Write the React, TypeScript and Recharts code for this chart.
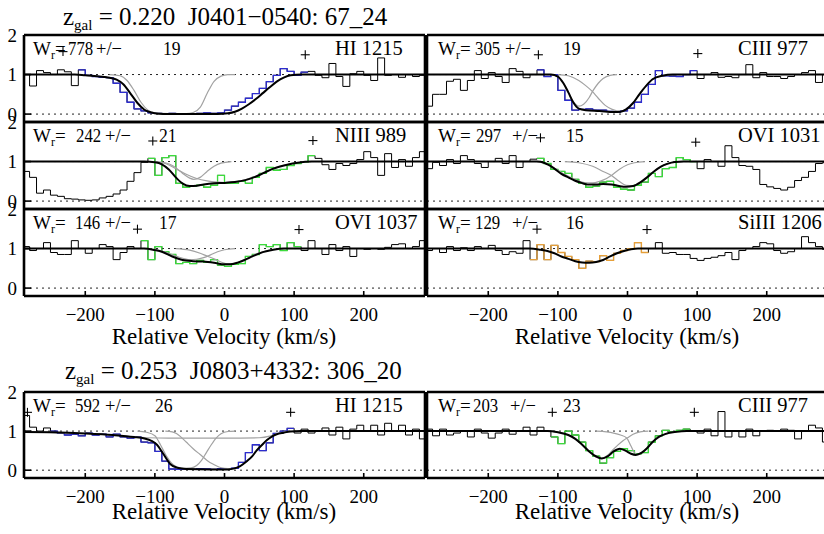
import React from 'react';
import { ComposedChart, Line, XAxis, YAxis, ReferenceLine, Scatter } from 'recharts';

type Pair = [number, number];

// ---------- shared grid / ticks ----------
const binEdges = [
  -290, -280, -270, -260, -250, -240, -230, -220, -210, -200, -190, -180, -170, -160, -150,
  -140, -130, -120, -110, -100, -90, -80, -70, -60, -50, -40, -30, -20, -10, 0,
  10, 20, 30, 40, 50, 60, 70, 80, 90, 100, 110, 120, 130, 140, 150,
  160, 170, 180, 190, 200, 210, 220, 230, 240, 250, 260, 270, 280, 290,
];
const velTicks = [-200, -100, 0, 100, 200];
const fluxTicks = [0, 1, 2];

// ---------- titles / labels ----------
const groupTitles = ['0.220  J0401\u22120540: 67_24', '0.253  J0803+4332: 306_20'];
const lineNames = ['HI 1215', 'CIII 977', 'NIII 989', 'OVI 1031', 'OVI 1037', 'SiIII 1206', 'HI 1215', 'CIII 977'];
const wValues = [778, 305, 242, 297, 146, 129, 592, 203];
const wErrors = [19, 19, 21, 15, 17, 16, 26, 23];

// ---------- panel 1: HI 1215 (J0401) ----------
const fluxP1 = [
  1.0, 0.71, 1.1, 1.05, 1.0, 1.12, 1.07, 0.72, 1.12, 0.98,
  0.95, 0.93, 0.92, 0.78, 0.55, 0.3, 0.13, 0.08, 0.03, 0.02,
  0.01, 0.02, 0.0, 0.01, 0.0, 0.02, 0.03, 0.02, 0.03, 0.1,
  0.2, 0.3, 0.4, 0.52, 0.65, 0.82, 0.98, 1.15, 1.08, 0.98,
  1.06, 1.08, 0.98, 0.92, 1.28, 0.95, 0.7, 1.02, 1.08, 0.98,
  0.85, 1.42, 0.98, 1.0, 0.93, 1.0, 0.95, 0.98,
];
const segP1: Pair = [-210, 120];
const fitP1: Pair[] = [[-290, 1], [-215, 1], [-200, 0.98], [-180, 0.95], [-165, 0.92], [-155, 0.87], [-145, 0.75], [-135, 0.52], [-125, 0.28], [-115, 0.11], [-105, 0.04], [-95, 0.01], [-80, 0], [-10, 0], [5, 0.02], [15, 0.06], [25, 0.14], [35, 0.25], [45, 0.38], [55, 0.53], [65, 0.68], [75, 0.82], [85, 0.92], [95, 0.98], [110, 1], [290, 1]];
const compP1a: Pair[] = [[-165, 1], [-150, 0.97], [-140, 0.85], [-130, 0.6], [-120, 0.3], [-110, 0.1], [-100, 0.03], [-80, 0.01], [-55, 0.01], [-45, 0.04], [-35, 0.17], [-25, 0.52], [-15, 0.83], [-5, 0.96], [5, 1], [15, 1]];
const plusP1: Pair[] = [[-232, 1.58], [116, 1.5]];

// ---------- panel 2: CIII 977 (J0401) ----------
const fluxP2 = [
  0.2, 0.5, 0.5, 0.83, 0.88, 0.6, 0.85, 1.1, 0.9, 1.05,
  0.95, 0.8, 1.15, 1.08, 0.92, 1.0, 1.12, 0.95, 1.0, 0.6,
  0.35, 0.1, 0.12, 0.13, 0.1, 0.1, 0.07, 0.05, 0.08, 0.15,
  0.3, 0.5, 0.75, 1.1, 0.97, 0.96, 0.95, 1.0, 1.1, 0.9,
  1.0, 1.05, 0.93, 0.95, 0.92, 1.0, 1.25, 0.92, 1.05, 0.95,
  0.95, 0.9, 0.95, 1.0, 1.05, 1.1, 0.8, 1.0,
];
const segP2: Pair = [-130, 100];
const fitP2: Pair[] = [[-290, 1], [-110, 1], [-100, 0.95], [-92, 0.78], [-85, 0.55], [-78, 0.3], [-70, 0.14], [-60, 0.1], [-40, 0.08], [-20, 0.05], [-10, 0.06], [-2, 0.12], [8, 0.28], [17, 0.5], [27, 0.72], [36, 0.88], [50, 0.97], [65, 1], [290, 1]];
const compP2a: Pair[] = [[-110, 1], [-100, 0.95], [-92, 0.78], [-85, 0.55], [-78, 0.32], [-70, 0.2], [-63, 0.25], [-55, 0.42], [-50, 0.58], [-42, 0.78], [-35, 0.9], [-25, 0.98], [-15, 1]];
const compP2b: Pair[] = [[-100, 1], [-85, 0.97], [-70, 0.85], [-60, 0.72], [-51, 0.58], [-42, 0.4], [-32, 0.22], [-22, 0.12], [-10, 0.07], [-2, 0.12], [8, 0.28], [17, 0.5], [27, 0.72], [36, 0.88], [50, 0.97], [65, 1]];
const plusP2: Pair[] = [[-128, 1.5], [101, 1.53]];

// ---------- panel 3: NIII 989 (J0401) ----------
const fluxP3 = [
  0.75, 0.6, 0.2, 0.28, 0.15, 0.12, 0.06, 0.05, 0.03, 0.02,
  0.03, 0.08, 0.12, 0.18, 0.28, 0.5, 0.72, 0.98, 1.08, 0.65,
  1.1, 1.15, 0.45, 0.35, 0.38, 0.4, 0.35, 0.4, 0.65, 0.45,
  0.45, 0.5, 0.45, 0.6, 0.7, 0.85, 0.78, 0.8, 0.9, 0.95,
  0.98, 1.15, 1.08, 0.92, 0.8, 0.95, 0.9, 0.95, 1.05, 1.25,
  1.1, 0.65, 1.2, 0.85, 1.05, 0.88, 1.1, 1.25,
];
const segP3: Pair = [-110, 130];
const fitP3: Pair[] = [[-290, 1], [-115, 1], [-100, 0.98], [-90, 0.93], [-80, 0.8], [-70, 0.6], [-60, 0.44], [-50, 0.38], [-40, 0.39], [-30, 0.42], [-15, 0.45], [0, 0.46], [15, 0.48], [30, 0.53], [45, 0.62], [55, 0.7], [70, 0.82], [90, 0.92], [105, 0.97], [125, 1], [290, 1]];
const compP3a: Pair[] = [[-100, 1], [-85, 0.97], [-73, 0.88], [-60, 0.7], [-50, 0.58], [-44, 0.55], [-35, 0.6], [-25, 0.75], [-15, 0.88], [-5, 0.96], [10, 1]];
const compP3b: Pair[] = [[-100, 1], [-85, 0.95], [-70, 0.82], [-55, 0.68], [-40, 0.57], [-25, 0.51], [-10, 0.48], [0, 0.47], [15, 0.49], [30, 0.54], [45, 0.63], [55, 0.7], [70, 0.82], [90, 0.92], [105, 0.97], [125, 1]];
const plusP3: Pair[] = [[-103, 1.52], [127, 1.53]];

// ---------- panel 4: OVI 1031 (J0401) ----------
const fluxP4 = [
  0.82, 0.98, 0.9, 1.05, 0.95, 1.15, 1.05, 0.95, 0.85, 1.0,
  1.08, 0.95, 1.15, 0.85, 1.0, 1.06, 1.08, 0.95, 0.8, 0.75,
  0.7, 0.55, 0.45, 0.35, 0.38, 0.48, 0.5, 0.35, 0.3, 0.28,
  0.4, 0.48, 0.7, 0.62, 0.82, 0.85, 1.1, 1.05, 1.0, 0.82,
  1.05, 1.0, 0.88, 1.4, 1.1, 0.9, 0.88, 0.8, 0.42, 0.36,
  0.32, 0.28, 0.35, 0.52, 0.6, 0.75, 0.95, 0.97,
];
const segP4: Pair = [-130, 100];
const fitP4: Pair[] = [[-290, 1], [-130, 1], [-120, 0.97], [-114, 0.92], [-105, 0.82], [-95, 0.69], [-85, 0.6], [-76, 0.52], [-66, 0.46], [-57, 0.42], [-45, 0.42], [-35, 0.43], [-23, 0.42], [-12, 0.38], [-2, 0.36], [8, 0.38], [19, 0.48], [28, 0.6], [38, 0.75], [48, 0.87], [57, 0.94], [68, 0.99], [80, 1], [290, 1]];
const compP4a: Pair[] = [[-130, 1], [-114, 0.93], [-95, 0.72], [-76, 0.55], [-62, 0.47], [-50, 0.46], [-40, 0.5], [-30, 0.57], [-23, 0.65], [-12, 0.8], [0, 0.92], [10, 0.97], [25, 1]];
const compP4b: Pair[] = [[-90, 1], [-70, 0.97], [-50, 0.88], [-35, 0.75], [-23, 0.65], [-12, 0.5], [-2, 0.4], [8, 0.39], [19, 0.48], [28, 0.6], [38, 0.75], [48, 0.87], [57, 0.94], [68, 0.99], [80, 1]];
const plusP4: Pair[] = [[-125, 1.6], [98, 1.49]];

// ---------- panel 5: OVI 1037 (J0401) ----------
const fluxP5 = [
  1.05, 0.95, 1.0, 1.15, 0.9, 0.85, 0.85, 1.2, 1.0, 0.88,
  1.0, 1.1, 1.05, 0.72, 0.9, 1.05, 1.0, 1.2, 0.72, 1.05,
  0.92, 0.85, 0.62, 0.65, 0.62, 0.7, 0.65, 0.72, 0.58, 0.55,
  0.6, 0.62, 0.8, 0.85, 1.1, 1.05, 1.1, 0.95, 1.15, 1.05,
  0.95, 1.2, 1.0, 0.85, 1.1, 0.95, 1.05, 0.8, 1.0, 0.98,
  1.0, 0.98, 1.03, 1.1, 1.12, 1.0, 1.05, 1.2,
];
const segP5: Pair = [-120, 110];
const fitP5: Pair[] = [[-290, 1], [-115, 1], [-100, 0.96], [-90, 0.92], [-75, 0.8], [-60, 0.71], [-45, 0.68], [-30, 0.67], [-15, 0.64], [0, 0.6], [8, 0.6], [20, 0.65], [30, 0.72], [40, 0.8], [55, 0.91], [70, 0.97], [85, 1], [290, 1]];
const compP5a: Pair[] = [[-115, 1], [-95, 0.96], [-80, 0.88], [-65, 0.78], [-50, 0.72], [-40, 0.73], [-30, 0.77], [-20, 0.84], [-10, 0.92], [0, 0.97], [15, 1]];
const compP5b: Pair[] = [[-70, 1], [-50, 0.96], [-35, 0.88], [-25, 0.81], [-15, 0.74], [-5, 0.66], [5, 0.61], [15, 0.63], [25, 0.69], [35, 0.77], [45, 0.86], [58, 0.93], [72, 0.98], [85, 1]];
const plusP5: Pair[] = [[-125, 1.49], [107, 1.48]];

// ---------- panel 6: SiIII 1206 (J0401) ----------
const fluxP6 = [
  0.95, 1.0, 0.9, 1.05, 0.95, 1.02, 0.95, 1.05, 1.0, 1.08,
  0.95, 0.85, 0.92, 0.88, 1.2, 0.72, 1.1, 0.72, 1.08, 0.9,
  0.8, 0.72, 0.5, 0.68, 0.67, 0.82, 0.7, 0.88, 0.95, 1.0,
  1.15, 0.9, 1.0, 1.15, 0.88, 0.9, 0.85, 0.85, 0.75, 0.7,
  0.75, 0.78, 0.82, 0.9, 0.72, 0.95, 1.0, 1.05, 1.15, 1.12,
  0.95, 0.88, 0.92, 1.0, 1.3, 1.15, 1.05, 0.98,
];
const segP6: Pair = [-140, 30];
const fitP6: Pair[] = [[-290, 1], [-140, 1], [-125, 0.97], [-115, 0.94], [-105, 0.88], [-95, 0.8], [-85, 0.74], [-75, 0.68], [-65, 0.65], [-55, 0.64], [-45, 0.66], [-35, 0.71], [-25, 0.8], [-15, 0.88], [-5, 0.94], [5, 0.98], [15, 1], [290, 1]];
const plusP6: Pair[] = [[-130, 1.49], [28, 1.48]];

// ---------- panel 7: HI 1215 (J0803) ----------
const fluxP7 = [
  1.4, 1.1, 1.0, 1.08, 1.0, 0.95, 0.9, 0.92, 0.88, 0.95,
  0.9, 0.92, 0.85, 0.92, 0.85, 0.82, 0.85, 0.72, 0.7, 0.48,
  0.23, 0.03, 0.02, 0.03, 0.02, 0.04, 0.03, 0.02, 0.04, 0.03,
  0.05, 0.2, 0.45, 0.65, 0.5, 0.7, 0.94, 1.0, 1.07, 0.95,
  1.05, 0.95, 1.0, 1.08, 0.9, 1.1, 0.8, 1.05, 1.15, 1.0,
  1.15, 0.9, 1.2, 1.0, 1.15, 0.9, 1.05, 0.8,
];
const segP7: Pair = [-250, 100];
const fitP7: Pair[] = [[-290, 0.98], [-250, 0.97], [-200, 0.94], [-160, 0.9], [-130, 0.85], [-115, 0.81], [-105, 0.75], [-97, 0.65], [-88, 0.42], [-78, 0.16], [-68, 0.06], [-55, 0.03], [-20, 0.02], [5, 0.02], [13, 0.04], [22, 0.1], [32, 0.23], [40, 0.36], [46, 0.5], [53, 0.63], [61, 0.77], [68, 0.86], [75, 0.92], [85, 0.96], [95, 0.99], [110, 1], [290, 1]];
const compP7a: Pair[] = [[-290, 0.98], [-240, 0.96], [-200, 0.94], [-160, 0.9], [-130, 0.85], [-110, 0.83], [-80, 0.82], [0, 0.82], [50, 0.83], [65, 0.87], [75, 0.93], [85, 0.97], [95, 0.99], [110, 1]];
const compP7b: Pair[] = [[-125, 1], [-112, 0.97], [-100, 0.88], [-92, 0.65], [-84, 0.38], [-76, 0.18], [-68, 0.08], [-58, 0.05], [-48, 0.06], [-40, 0.12], [-33, 0.25], [-26, 0.45], [-19, 0.65], [-12, 0.82], [-5, 0.93], [5, 0.99], [15, 1]];
const compP7c: Pair[] = [[-85, 1], [-75, 0.98], [-69, 0.94], [-62, 0.84], [-55, 0.72], [-45, 0.55], [-35, 0.4], [-25, 0.25], [-16, 0.15], [-8, 0.08], [0, 0.05], [10, 0.04], [15, 0.05], [22, 0.1], [32, 0.23], [40, 0.36], [46, 0.5], [53, 0.63], [61, 0.77], [68, 0.86], [75, 0.93], [85, 0.97], [95, 1]];
const plusP7: Pair[] = [[-283, 1.48], [95, 1.48]];

// ---------- panel 8: CIII 977 (J0803) ----------
const fluxP8 = [
  1.05, 0.88, 1.05, 0.9, 0.95, 1.0, 0.85, 1.05, 0.95, 0.82,
  0.95, 1.05, 0.92, 1.0, 1.1, 0.9, 1.1, 1.0, 0.85, 0.68,
  1.0, 0.9, 0.72, 0.5, 0.36, 0.18, 0.32, 0.48, 0.55, 0.5,
  0.42, 0.45, 0.72, 0.88, 1.02, 0.98, 1.02, 1.05, 1.0, 0.95,
  1.05, 0.88, 1.5, 0.85, 1.0, 0.85, 1.05, 0.88, 1.0, 1.02,
  1.0, 1.05, 1.02, 0.8, 1.0, 1.15, 1.08, 0.72,
];
const segP8: Pair = [-110, 90];
const fitP8: Pair[] = [[-290, 1], [-115, 1], [-100, 0.97], [-85, 0.9], [-75, 0.8], [-65, 0.65], [-55, 0.48], [-45, 0.35], [-37, 0.3], [-28, 0.36], [-20, 0.48], [-11, 0.55], [-3, 0.5], [5, 0.42], [12, 0.39], [20, 0.44], [28, 0.56], [36, 0.72], [45, 0.85], [55, 0.93], [70, 0.98], [85, 1], [290, 1]];
const compP8a: Pair[] = [[-115, 1], [-95, 0.96], [-80, 0.86], [-68, 0.7], [-57, 0.5], [-47, 0.36], [-38, 0.3], [-30, 0.36], [-22, 0.5], [-14, 0.64], [-6, 0.76], [0, 0.83], [8, 0.92], [18, 0.98], [30, 1]];
const compP8b: Pair[] = [[-45, 1], [-30, 0.98], [-20, 0.95], [-10, 0.9], [-1, 0.82], [5, 0.62], [10, 0.45], [14, 0.4], [20, 0.44], [28, 0.56], [36, 0.72], [45, 0.85], [55, 0.93], [70, 0.98], [85, 1]];
const plusP8: Pair[] = [[-108, 1.48], [96, 1.48]];

// ---------- styling ----------
const FONT = "'Liberation Serif', 'Times New Roman', serif";
const BLUE = '#2c2ccf';
const GREEN = '#3cdc3c';
const ORANGE = '#e6a03a';
const GRAY = '#a2a2a2';
const FRAME = { stroke: '#000', strokeWidth: 2.6 };
const TICK = { stroke: '#000', strokeWidth: 1.6 };

const toPts = (pairs: Pair[]) => pairs.map(([v, f]) => ({ v, f }));
const histData = (flux: number[]) =>
  binEdges.map((v, i) => ({ v, f: flux[Math.min(i, flux.length - 1)] }));
const segData = (flux: number[], range: Pair) => {
  const out: { v: number; f: number }[] = [];
  for (let i = 0; i < flux.length; i++) {
    if (binEdges[i] >= range[0] && binEdges[i] < range[1]) out.push({ v: binEdges[i], f: flux[i] });
  }
  out.push({ v: range[1], f: out[out.length - 1].f });
  return out;
};
const fmtV = (v: number) => (v < 0 ? `\u2212${-v}` : `${v}`);

const PlusShape = (p: any) => (
  <g>
    <line x1={p.cx - 4.5} y1={p.cy} x2={p.cx + 4.5} y2={p.cy} stroke="#000" strokeWidth={1.1} />
    <line x1={p.cx} y1={p.cy - 4.5} x2={p.cx} y2={p.cy + 4.5} stroke="#000" strokeWidth={1.1} />
  </g>
);

type PanelProps = {
  left: number; top: number; plotH: number; showX: boolean; showY: boolean;
  flux: number[]; seg: Pair; segColor: string; fit: Pair[]; comps: Pair[][]; plus: Pair[];
};

function Panel(p: PanelProps) {
  const bottomH = p.showX ? 50 : 1;
  const W = 426;
  const H = 1 + p.plotH + bottomH;
  const dom: [number, number] = [-288, 288];
  const ydom: [number, number] = [-0.2, 2];
  return (
    <div style={{ position: 'absolute', left: p.left, top: p.top - 1 }}>
      <ComposedChart width={W} height={H} margin={{ top: 0, right: 0, bottom: 0, left: 0 }}>
        <XAxis type="number" dataKey="v" domain={dom} allowDataOverflow ticks={velTicks} interval={0}
          tickSize={-5} tickMargin={17} height={bottomH}
          tick={p.showX ? { fontSize: 19, fill: '#000', fontFamily: FONT } : false}
          tickFormatter={fmtV} axisLine={FRAME} tickLine={TICK} />
        <XAxis xAxisId="t" orientation="top" type="number" dataKey="v" domain={dom} allowDataOverflow
          ticks={velTicks} interval={0} tickSize={-5} height={1} tick={false} axisLine={FRAME} tickLine={TICK} />
        <YAxis type="number" domain={ydom} allowDataOverflow ticks={fluxTicks} interval={0}
          tickSize={-7} tickMargin={14} width={24}
          tick={p.showY ? { fontSize: 19, fill: '#000', fontFamily: FONT } : false}
          axisLine={FRAME} tickLine={TICK} />
        <YAxis yAxisId="r" orientation="right" type="number" domain={ydom} allowDataOverflow ticks={fluxTicks}
          interval={0} tickSize={-7} width={1} tick={false} axisLine={FRAME} tickLine={TICK} />
        <ReferenceLine y={0} stroke="#222" strokeDasharray="2 4" strokeWidth={1} />
        <ReferenceLine y={1} stroke="#222" strokeDasharray="2 4" strokeWidth={1} />
        <Line data={histData(p.flux)} dataKey="f" type="stepAfter" stroke="#000" strokeWidth={1}
          dot={false} isAnimationActive={false} />
        <Line data={segData(p.flux, p.seg)} dataKey="f" type="stepAfter" stroke={p.segColor} strokeWidth={1.3}
          dot={false} isAnimationActive={false} />
        {p.comps.map((c, i) => (
          <Line key={i} data={toPts(c)} dataKey="f" type="monotone" stroke={GRAY} strokeWidth={1.2}
            dot={false} isAnimationActive={false} />
        ))}
        <Line data={toPts(p.fit)} dataKey="f" type="monotone" stroke="#000" strokeWidth={2}
          dot={false} isAnimationActive={false} />
        <Scatter data={toPts(p.plus)} dataKey="f" shape={PlusShape} isAnimationActive={false} />
      </ComposedChart>
    </div>
  );
}

// layout (pixel geometry only)
const colLeft = [0, 403];
const rowTop = [35, 122, 209, 392];
const panels = [
  { flux: fluxP1, seg: segP1, color: BLUE, fit: fitP1, comps: [compP1a], plus: plusP1, row: 0, col: 0 },
  { flux: fluxP2, seg: segP2, color: BLUE, fit: fitP2, comps: [compP2a, compP2b], plus: plusP2, row: 0, col: 1 },
  { flux: fluxP3, seg: segP3, color: GREEN, fit: fitP3, comps: [compP3a, compP3b], plus: plusP3, row: 1, col: 0 },
  { flux: fluxP4, seg: segP4, color: GREEN, fit: fitP4, comps: [compP4a, compP4b], plus: plusP4, row: 1, col: 1 },
  { flux: fluxP5, seg: segP5, color: GREEN, fit: fitP5, comps: [compP5a, compP5b], plus: plusP5, row: 2, col: 0 },
  { flux: fluxP6, seg: segP6, color: ORANGE, fit: fitP6, comps: [], plus: plusP6, row: 2, col: 1 },
  { flux: fluxP7, seg: segP7, color: BLUE, fit: fitP7, comps: [compP7a, compP7b, compP7c], plus: plusP7, row: 3, col: 0 },
  { flux: fluxP8, seg: segP8, color: GREEN, fit: fitP8, comps: [compP8a, compP8b], plus: plusP8, row: 3, col: 1 },
];
// text x positions: [W, number, +/-, error]
const wTextX = [
  [33, 68, 96, 163], [438, 475, 505, 563],
  [33, 76, 105, 159], [438, 476, 512, 566],
  [33, 75, 105, 159], [438, 475, 512, 566],
  [33, 75, 105, 155], [438, 473, 510, 563],
];
const nameX = [335, 738];

export default function App() {
  return (
    <div style={{ position: 'absolute', left: 0, top: 0, width: 824, height: 534, overflow: 'hidden', background: '#fff' }}>
      <style>{'.recharts-surface{overflow:visible}'}</style>
      {panels.map((pn, i) => (
        <Panel key={i} left={colLeft[pn.col]} top={rowTop[pn.row]} plotH={pn.row === 3 ? 86 : 87}
          showX={pn.row >= 2} showY={pn.col === 0} flux={pn.flux} seg={pn.seg} segColor={pn.color}
          fit={pn.fit} comps={pn.comps} plus={pn.plus} />
      ))}
      <svg width={824} height={534} style={{ position: 'absolute', left: 0, top: 0, pointerEvents: 'none' }}
        fontFamily={FONT} fill="#000">
        <text x={63} y={25} fontSize={25} xmlSpace="preserve">
          z<tspan fontSize={15} dy={5}>gal</tspan><tspan dy={-5}>{' = ' + groupTitles[0]}</tspan>
        </text>
        <text x={65} y={379} fontSize={25} xmlSpace="preserve">
          z<tspan fontSize={15} dy={5}>gal</tspan><tspan dy={-5}>{' = ' + groupTitles[1]}</tspan>
        </text>
        {panels.map((pn, i) => {
          const by = rowTop[pn.row] + 20;
          const xs = wTextX[i];
          const nStr = String(wValues[i]);
          const eStr = String(wErrors[i]);
          return (
            <g key={i}>
              <text x={xs[0]} y={by} fontSize={19}>W<tspan fontSize={12} dy={4}>r</tspan><tspan dy={-4}>=</tspan></text>
              <text x={xs[1]} y={by} fontSize={19} textLength={nStr.length * 8.4} lengthAdjust="spacingAndGlyphs">{nStr}</text>
              <text x={xs[2]} y={by} fontSize={19} textLength={26} lengthAdjust="spacingAndGlyphs">+/{'\u2212'}</text>
              <text x={xs[3]} y={by} fontSize={19} textLength={eStr.length * 8.8} lengthAdjust="spacingAndGlyphs">{eStr}</text>
              <text x={nameX[pn.col]} y={by} fontSize={20.5}>{lineNames[i]}</text>
            </g>
          );
        })}
        <text x={224} y={344} fontSize={23} textAnchor="middle">Relative Velocity (km/s)</text>
        <text x={627} y={344} fontSize={23} textAnchor="middle">Relative Velocity (km/s)</text>
        <text x={224} y={519} fontSize={23} textAnchor="middle">Relative Velocity (km/s)</text>
        <text x={627} y={519} fontSize={23} textAnchor="middle">Relative Velocity (km/s)</text>
      </svg>
    </div>
  );
}
